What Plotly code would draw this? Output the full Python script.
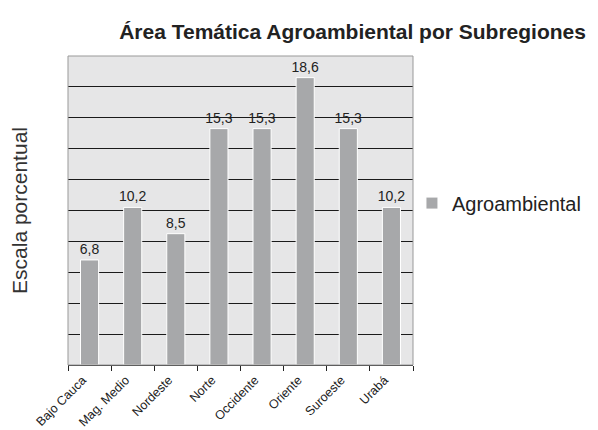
import plotly.graph_objects as go

subregiones = ["Bajo Cauca", "Mag. Medio", "Nordeste", "Norte", "Occidente", "Oriente", "Suroeste", "Urabá"]
agroambiental = [6.8, 10.2, 8.5, 15.3, 15.3, 18.6, 15.3, 10.2]

fig = go.Figure()
fig.add_trace(go.Bar(x=subregiones, y=agroambiental, name="Agroambiental",
                     marker_color="#a7a8aa", marker_line=dict(color="white", width=1),
                     width=0.42, texttemplate="%{y:.1f}", textposition="outside",
                     constraintext="none", textfont=dict(size=14, color="#222222"), cliponaxis=False))

fig.update_xaxes(showgrid=False, tickangle=-45, tickfont=dict(size=12.5, color="#222222"),
                 ticks="outside", tickson="boundaries", ticklen=5, tickcolor="#222222",
                 ticklabelshift=-7, ticklabelstandoff=2,
                 showline=True, linecolor="#222222", automargin=False)
fig.update_yaxes(range=[0, 20], dtick=2, showticklabels=False, showgrid=True,
                 gridcolor="#1a1a1a", gridwidth=1, zeroline=False, automargin=False,
                 title=dict(text="Escala porcentual", font=dict(size=21, color="#333333"), standoff=35))

# the page body adds an 8px offset, so the figure is drawn 8px smaller
fig.update_layout(width=590, height=422, separators=",.",
                  margin=dict(l=60, r=185, t=48, b=65),
                  paper_bgcolor="white", plot_bgcolor="#e6e6e7",
                  font=dict(family="Liberation Sans, Arial, sans-serif", color="#222222"),
                  title=dict(text="<b>Área Temática Agroambiental por Subregiones</b>",
                             font=dict(size=21, color="#222222"), x=0.584, xanchor="center",
                             y=0.943, yanchor="middle"),
                  showlegend=True,
                  legend=dict(x=0.997, y=0.524, xanchor="left", yanchor="middle",
                              font=dict(size=20, color="#222222"), bgcolor="rgba(0,0,0,0)"),
                  shapes=[dict(type="rect", xref="paper", yref="paper", x0=0, x1=1, y0=0, y1=1,
                               line=dict(color="#999999", width=1), layer="above")])

fig.write_html("out.html")
